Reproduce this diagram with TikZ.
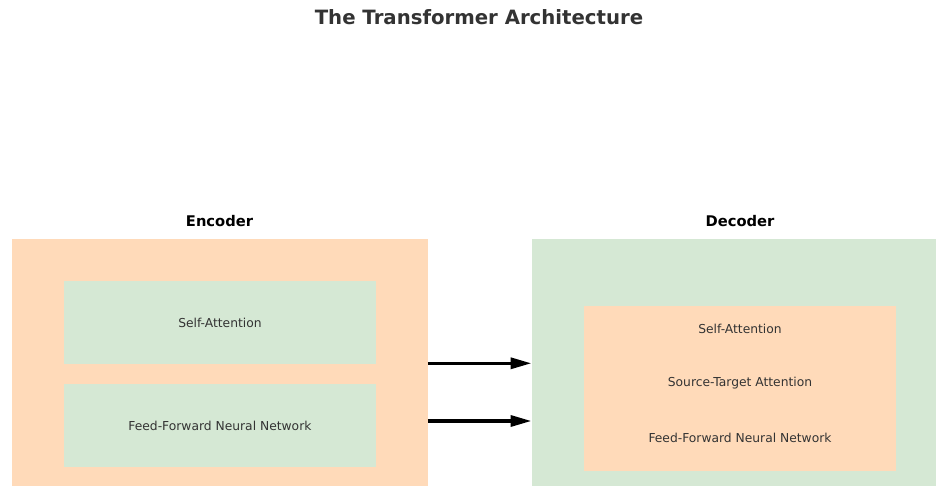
\documentclass[tikz,border=0pt]{standalone}
\usepackage{fontspec}
\setmainfont{DejaVu Sans}
\usetikzlibrary{arrows.meta,positioning}
\definecolor{peach}{HTML}{FFDAB9}
\definecolor{mint}{HTML}{D5E8D4}
\definecolor{ink}{HTML}{333333}
\tikzset{
  px/.style={x=1pt,y=1pt},
  outerbox/.style={rectangle,inner sep=0pt,anchor=north west},
  innerbox/.style={rectangle,inner sep=0pt,anchor=north west},
  plainlabel/.style={text=ink,font=\fontsize{12.3}{14}\selectfont,inner sep=0pt},
  heading/.style={font=\bfseries\fontsize{14.7}{17}\selectfont,text=black,inner sep=0pt},
  flow/.style={line width=3.4pt,-{Triangle[length=21pt,width=11pt]}}
}
\begin{document}
\begin{tikzpicture}[px]
\useasboundingbox (0,0) rectangle (936,486);

% title
\node[font=\bfseries\fontsize{19.7}{24}\selectfont,text=ink,inner sep=0pt] (title) at (479,469) {The Transformer Architecture};

% encoder
\node[outerbox,fill=peach,minimum width=416pt,minimum height=247pt] (enc) at (11.5,247) {};
\node[heading] (enclabel) at (219.5,264.5) {Encoder};
\node[innerbox,fill=mint,minimum width=312.5pt,minimum height=82.5pt] (encsa) at (63.5,205) {};
\node[plainlabel] at (encsa.center) {Self-Attention};
\node[innerbox,fill=mint,minimum width=312.5pt,minimum height=83pt] (encff) at (63.5,101.7) {};
\node[plainlabel] at (encff.center) {Feed-Forward Neural Network};

% decoder
\node[outerbox,fill=mint,minimum width=404.5pt,minimum height=247pt] (dec) at (531.5,247) {};
\node[heading] (declabel) at (740,264.5) {Decoder};
\node[innerbox,fill=peach,minimum width=312.5pt,minimum height=165pt] (decstack) at (583.5,180) {};
\node[plainlabel] (decsa) at (740,156.7) {Self-Attention};
\node[plainlabel] (decst) at (740,102.7) {Source-Target Attention};
\node[plainlabel] (decff) at (740,48.3) {Feed-Forward Neural Network};

% connections from encoder to decoder
\coordinate (upper) at (480,122.7);
\coordinate (lower) at (480,65);
\draw[flow] (enc.east |- upper) -- (dec.west |- upper);
\draw[flow] (enc.east |- lower) -- (dec.west |- lower);
\end{tikzpicture}
\end{document}
